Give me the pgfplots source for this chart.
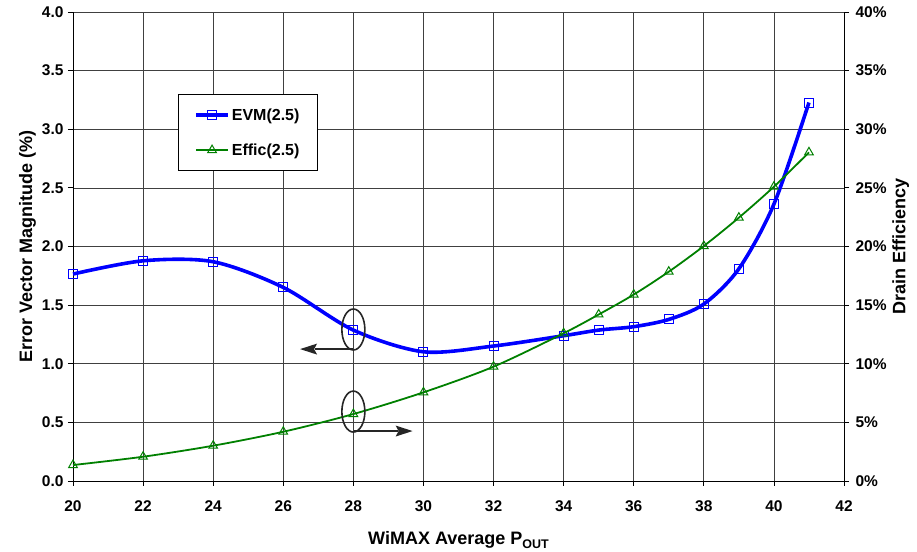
\documentclass[border=0pt]{standalone}
\usepackage{fontspec}
\setmainfont{Liberation Sans}
\usepackage{pgfplots}
\pgfplotsset{compat=1.18}
\usetikzlibrary{arrows.meta}

\newcommand\tickfont{\fontsize{15.5}{18}\selectfont\bfseries}
\newcommand\labfont{\fontsize{18}{21}\selectfont\bfseries}

\pgfplotsset{
  common/.style={
    scale only axis, width=771pt, height=469pt,
    xmin=20, xmax=42, clip=false,
    tick align=outside, major tick length=5pt,
    tick style={black, line width=0.8pt},
    axis line style={black, line width=0.9pt, -},
    tick label style={font=\tickfont},
    label style={font=\labfont},
    /pgf/number format/assume math mode=true,
  },
  evm/.style={blue, line width=3.6pt, smooth, tension=0.5, mark=square,
    mark size=4.5pt, mark options={line width=1pt, solid, fill=none}},
  eff/.style={green!50!black, line width=1.8pt, smooth, tension=0.5, mark=triangle,
    mark size=5pt, mark options={line width=1pt, solid, fill=none}},
}

\begin{document}
\begin{tikzpicture}
\begin{axis}[common, name=ax,
    ymin=0, ymax=4,
    xtick={20,22,...,42}, ytick={0,0.5,...,4},
    axis x line*=bottom, axis y line*=left,
    grid=major, major grid style={black!75, line width=0.7pt},
    xticklabel style={yshift=-11pt},
    yticklabel style={xshift=-1pt, /pgf/number format/.cd, fixed, fixed zerofill, precision=1},
    ylabel={Error Vector Magnitude (\%)},
    ylabel style={yshift=-1pt},
    xlabel={WiMAX Average P\raisebox{-0.45ex}{\fontsize{12.5}{14}\selectfont OUT}},
    xlabel style={yshift=-13pt},
  ]
\addplot[evm] coordinates {
  (20,1.765) (22,1.878) (24,1.870) (26,1.651) (28,1.287) (30,1.102)
  (32,1.151) (34,1.239) (35,1.287) (36,1.316) (37,1.378) (38,1.509)
  (39,1.810) (40,2.361) (41,3.228)
};
\end{axis}

\begin{axis}[common,
    ymin=0, ymax=40,
    ytick={0,5,...,40},
    axis x line=none, axis y line*=right,
    yticklabel={\pgfmathprintnumber{\tick}\%},
    yticklabel style={xshift=3pt},
    ylabel={Drain Efficiency},
    ylabel style={yshift=1pt},
    legend style={at={(0.136,0.825)}, anchor=north west, draw=black,
      line width=0.8pt, font=\fontsize{16}{19}\selectfont\bfseries,
      inner xsep=16pt, inner ysep=12pt, row sep=18pt},
    legend cell align=left,
    legend image code/.code={\draw[mark repeat=2, mark phase=2]
      plot coordinates {(0pt,0pt) (16pt,0pt) (32pt,0pt)};},
  ]
\addlegendimage{evm}
\addlegendentry{EVM(2.5)}
\addplot[eff] coordinates {
  (20,1.36) (22,2.07) (24,3.01) (26,4.20) (28,5.71) (30,7.56)
  (32,9.75) (34,12.6) (35,14.2) (36,15.9) (37,17.85) (38,20.04)
  (39,22.46) (40,25.1) (41,28.03)
};
\addlegendentry{Effic(2.5)}

\draw[black!85, line width=1.6pt] (axis cs:28,12.92) ellipse [x radius=11.5pt, y radius=20.5pt];
\draw[black!85, line width=1.6pt] (axis cs:28,5.92) ellipse [x radius=11.5pt, y radius=20.5pt];
\coordinate (a1s) at (axis cs:28,11.25);
\coordinate (a1e) at (axis cs:26.48,11.25);
\coordinate (a2s) at (axis cs:28.03,4.26);
\coordinate (a2e) at (axis cs:29.69,4.26);
\end{axis}

\draw[black!85, line width=2pt] (a1s) -- ([xshift=15pt]a1e);
\fill[black!85] (a1e) -- ++(17pt,5.5pt) -- ++(-3pt,-5.5pt) -- ++(3pt,-5.5pt) -- cycle;
\draw[black!85, line width=2pt] (a2s) -- ([xshift=-15pt]a2e);
\fill[black!85] (a2e) -- ++(-17pt,5.5pt) -- ++(3pt,-5.5pt) -- ++(-3pt,-5.5pt) -- cycle;

\pgfresetboundingbox
\path ([shift={(-73pt,-71pt)}]ax.south west) rectangle ([shift={(73pt,12pt)}]ax.north east);
\end{tikzpicture}
\end{document}
